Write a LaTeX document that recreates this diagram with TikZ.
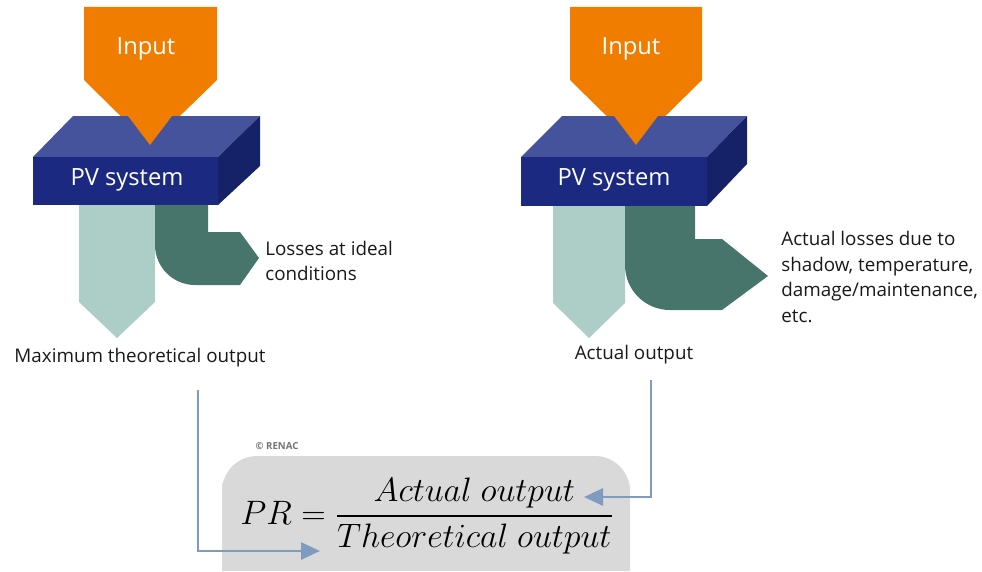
\documentclass[tikz,border=0pt]{standalone}
\usepackage{amsmath}
\usepackage{graphicx}
\usepackage{fontspec}
\setmainfont{Open Sans}
\usetikzlibrary{arrows.meta,positioning}
\definecolor{inorange}{RGB}{240,125,0}
\definecolor{pvfront}{RGB}{27,42,128}
\definecolor{pvtop}{RGB}{69,82,156}
\definecolor{pvside}{RGB}{22,34,104}
\definecolor{outlight}{RGB}{172,206,199}
\definecolor{lossdark}{RGB}{72,117,107}
\definecolor{linkblue}{RGB}{127,156,192}
\definecolor{boxgray}{RGB}{217,217,217}

\begin{document}
\begin{tikzpicture}[x=0.02cm,y=-0.02cm]

	\tikzstyle{txt}=[font=\fontsize{10.7}{13}\selectfont,text=black!90,inner sep=0pt]
	\tikzstyle{big}=[font=\fontsize{13.5}{16}\selectfont,text=white,inner sep=0pt]
	\tikzstyle{link}=[draw=linkblue,line width=1.6pt,-{Triangle[length=0.38cm,width=0.34cm]}]

	\useasboundingbox (0,0) rectangle (982,571);

	% left: ideal
	\fill[inorange] (84,7) -- (217,7) -- (217,80) -- (150,145) -- (84,80) -- cycle;
	\fill[pvtop] (33,157) -- (73,116) -- (260,116) -- (218,157) -- cycle;
	\fill[pvside] (218,157) -- (260,116) -- (260,166) -- (218,205) -- cycle;
	\fill[pvfront] (33,157) rectangle (218,205);
	\fill[inorange] (128,116) -- (172,116) -- (150,145) -- cycle;
	\fill[outlight] (79,205) -- (155,205) -- (155,302) -- (117,338) -- (79,302) -- cycle;
	\fill[lossdark] (155,205) -- (208,205) -- (208,232) -- (240,232) -- (259,258) -- (240,285)
		-- (195,285) .. controls (173,285) and (155,267) .. (155,245) -- cycle;

	\node [big] (in1) at (146,49) {Input};
	\node [big] (pv1) at (127,180) {PV system};
	\node [txt,align=left,anchor=west] (loss1) at (265,261) {Losses at ideal\\[1.5pt]conditions};
	\node [txt] (out1) at (140,358) {Maximum theoretical output};

	% right: actual
	\fill[inorange] (570,7) -- (702,7) -- (702,80) -- (636,145) -- (570,80) -- cycle;
	\fill[pvtop] (521,157) -- (562,116) -- (747,116) -- (707,157) -- cycle;
	\fill[pvside] (707,157) -- (747,116) -- (747,164) -- (707,206) -- cycle;
	\fill[pvfront] (521,157) rectangle (707,206);
	\fill[inorange] (614,116) -- (658,116) -- (636,145) -- cycle;
	\fill[outlight] (553,206) -- (625,206) -- (625,303) -- (589,338) -- (553,303) -- cycle;
	\fill[lossdark] (625,206) -- (695,206) -- (695,239) -- (722,239) -- (768,276) -- (722,310)
		-- (670,310) .. controls (645,310) and (625,290) .. (625,265) -- cycle;

	\node [big] (in2) at (631,49) {Input};
	\node [big] (pv2) at (614,180) {PV system};
	\node [txt,align=left,anchor=west] (loss2) at (781,277) {Actual losses due to\\[1.5pt]shadow, temperature,\\[1.5pt]damage/maintenance,\\[1.5pt]etc.};
	\node [txt] (out2) at (634,355) {Actual output};

	% performance ratio
	\fill[boxgray] (222,571) -- (222,476) [rounded corners=20] -- (222,456) -- (630,456) [sharp corners] -- (630,476) -- (630,571) -- cycle;
	\node [font=\fontsize{5.5}{7}\selectfont\bfseries,text=black!55,inner sep=0pt] (renac) at (277,446) {\textcopyright{} RENAC};
	\node (pr) at (427,516) {\scalebox{0.93}{\fontsize{21}{25}\selectfont $PR=\dfrac{Actual\ output}{Theoretical\ output}$}};

	\coordinate (s1) at (198,390);
	\coordinate (t1) at (320,551);
	\coordinate (s2) at (651,380);
	\coordinate (t2) at (584,497);
	\draw [link] (s1) |- (t1);
	\draw [link] (s2) |- (t2);
\end{tikzpicture}
\end{document}
